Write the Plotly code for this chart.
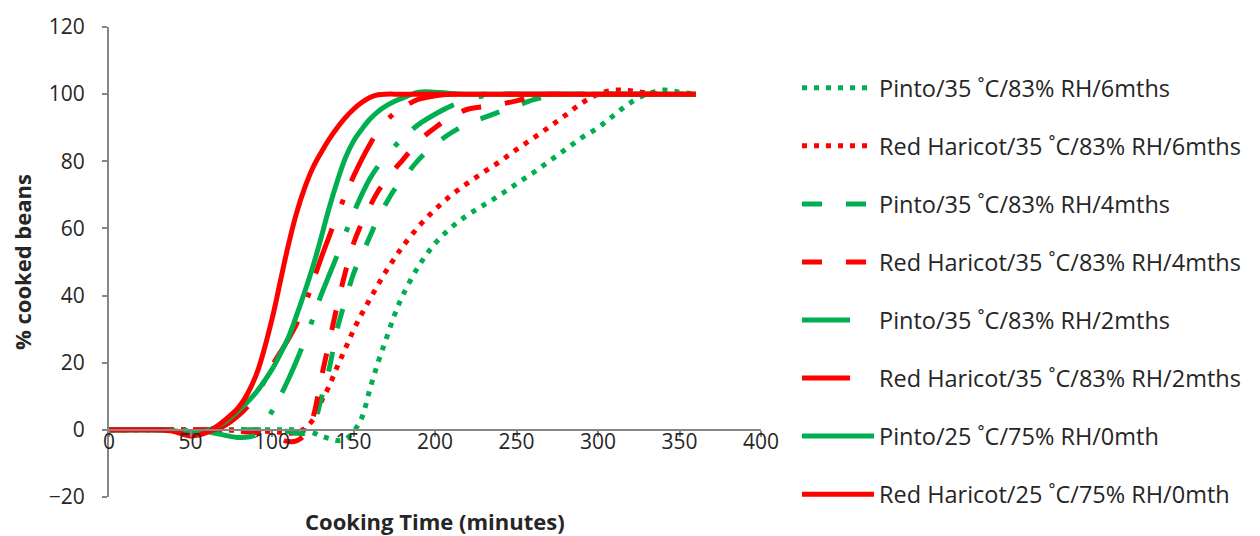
import plotly.graph_objects as go

# Cooking time (minutes)
time_min = [0, 10, 20, 30, 40, 50, 60, 70, 80, 90, 100, 105, 110, 115, 120, 125, 130, 135, 140, 145, 150,
            155, 160, 165, 170, 175, 180, 190, 200, 210, 220, 230, 240, 250, 260, 270, 280, 290, 300,
            310, 320, 330, 340, 350, 360]

# % cooked beans per series
pinto_6m = [0, 0, 0, 0, 0, 0, 0, 0, 0, 0, 0, 0, 0, 0, -0.2, -0.8, -1.8, -2.6, -3.2, -2.8, -0.5,
            3.5, 12, 20, 27, 34, 39.8, 48.8, 55.5, 60.3, 64, 67, 70, 73.3, 76.5, 80, 83.5, 87, 90,
            93.8, 97.5, 100, 101.2, 100.6, 100]
red_6m = [0, 0, 0, 0, 0, 0, 0, 0, -0.2, -0.3, -0.5, -0.7, -1, -0.8, 0.3, 3, 8.2, 13, 18.8, 24.2, 29.7,
          34.5, 38.9, 43.2, 47.3, 51, 54.5, 60.6, 65.6, 69.9, 73.5, 76.8, 80, 83.5, 86.8, 90.2, 93.7,
          97.3, 100, 101.2, 101, 100.4, 100, 100, 100]
pinto_4m = [0, 0, 0, 0, 0, 0, 0, 0, 0, 0, 0, -0.2, -0.5, -1, -1, 1, 9, 18, 30, 38.5, 46.5,
            52, 57.5, 63, 67.5, 71.5, 74.5, 80.5, 85, 88.5, 91.2, 93, 94.8, 96.5, 98.3, 99.4, 100,
            100, 100, 100, 100, 100, 100, 100, 100]
red_4m = [0, 0, 0, 0, 0, 0, 0, -0.3, -0.5, -0.8, -2, -2.8, -3.5, -3.3, -1.5, 3.5, 15, 26, 37, 47, 55.5,
          61.5, 66.5, 71, 74.3, 77.5, 80.3, 86, 90, 93.2, 95.5, 96.3, 97, 98, 99.2, 100, 100,
          100, 100, 100, 100, 100, 100, 100, 100]
pinto_2m = [0, 0, 0, 0, 0, -0.3, -0.5, -1.5, -2.3, -1.5, 5.5, 10, 15, 20.5, 26.5, 33, 40, 46, 52, 58.5, 64.5,
            70, 74.8, 78.5, 81.5, 84.3, 86.8, 91, 94, 96.5, 98.3, 99.5, 100, 100, 100, 100, 100,
            100, 100, 100, 100, 100, 100, 100, 100]
red_2m = [0, 0, 0, 0, -0.3, -1, -0.5, 1, 4.5, 10, 19, 23, 27, 31.5, 37, 44, 51, 57.5, 64, 70, 75.5,
          80.5, 85, 89, 92, 94.3, 96, 98.5, 99.5, 100, 100, 100, 100, 100, 100, 100, 100,
          100, 100, 100, 100, 100, 100, 100, 100]
pinto_0m = [0, 0, 0, 0, -0.3, -1, -0.3, 2, 6, 11, 18, 22.5, 27.5, 34, 41, 48.5, 57, 66, 74, 81, 86,
            89.5, 92.5, 94.8, 96.5, 97.8, 98.8, 100.6, 100.6, 100.2, 100, 100, 100, 100, 100, 100, 100,
            100, 100, 100, 100, 100, 100, 100, 100]
red_0m = [0, 0, 0, 0, -0.5, -1.8, -0.8, 2.5, 7, 16, 33, 44, 55, 64.5, 72, 78, 82.5, 86.5, 90, 93, 95.5,
          97.5, 99, 99.8, 100, 100, 100, 100, 100, 100, 100, 100, 100, 100, 100, 100, 100,
          100, 100, 100, 100, 100, 100, 100, 100]

series_names = [
    "Pinto/35 ˚C/83% RH/6mths",
    "Red Haricot/35 ˚C/83% RH/6mths",
    "Pinto/35 ˚C/83% RH/4mths",
    "Red Haricot/35 ˚C/83% RH/4mths",
    "Pinto/35 ˚C/83% RH/2mths",
    "Red Haricot/35 ˚C/83% RH/2mths",
    "Pinto/25 ˚C/75% RH/0mth",
    "Red Haricot/25 ˚C/75% RH/0mth",
]
series_values = [pinto_6m, red_6m, pinto_4m, red_4m, pinto_2m, red_2m, pinto_0m, red_0m]

GREEN = "#00B050"
RED = "#FF0000"
colors = [GREEN, RED, GREEN, RED, GREEN, RED, GREEN, RED]
DOT = "5px,7px"
DASH = "20px,24px"
LDD = "48px,26px,5px,20px"
dashes = [DOT, DOT, DASH, DASH, LDD, LDD, "solid", "solid"]

FONT = "Open Sans"
TXT = "#262626"
fig = go.Figure()
for i, (name, vals) in enumerate(zip(series_names, series_values)):
    fig.add_trace(go.Scatter(
        x=time_min, y=vals, name=name, mode="lines",
        line=dict(color=colors[i], width=5, dash=dashes[i], shape="spline", smoothing=1.0),
        legendgroup=f"g{i}",
    ))

AXC = "#868686"
fig.update_layout(
    width=1260, height=536,
    margin=dict(l=109, r=499, t=20, b=39),
    paper_bgcolor="white", plot_bgcolor="white",
    font=dict(family=FONT, size=21, color=TXT),
    showlegend=True,
    legend=dict(
        x=797 / 1260, y=1 - 66 / 536, xref="container", yref="container",
        xanchor="left", yanchor="top", maxheight=1.0,
        font=dict(family=FONT, size=23.5, color=TXT),
        tracegroupgap=24.5, itemwidth=72, bgcolor="rgba(0,0,0,0)",
    ),
    xaxis=dict(
        range=[0, 400], dtick=50, tick0=0, showgrid=False, zeroline=False,
        showline=True, linecolor=AXC, linewidth=2,
        ticks="outside", ticklen=6, tickwidth=2, tickcolor=AXC,
        anchor="free", position=20 / 140,
        ticklabelstandoff=-13,
    ),
    yaxis=dict(
        range=[-20, 120], dtick=20, tick0=0, showgrid=False, zeroline=False,
        showline=True, linecolor=AXC, linewidth=2,
        ticks="outside", ticklen=5, tickwidth=2, tickcolor=AXC,
        ticklabelstandoff=13,
    ),
    annotations=[
        dict(text="<b>Cooking Time (minutes)</b>", xref="paper", yref="paper",
             x=0.5, y=-(521 - 497) / 477, xanchor="center", yanchor="middle",
             showarrow=False, font=dict(family=FONT, size=22, color=TXT)),
        dict(text="<b>% cooked beans</b>", xref="paper", yref="paper",
             x=(22 - 109) / 652, y=0.5, xanchor="center", yanchor="middle", textangle=-90,
             showarrow=False, font=dict(family=FONT, size=22, color=TXT)),
    ],
)

fig.write_html("out.html")
